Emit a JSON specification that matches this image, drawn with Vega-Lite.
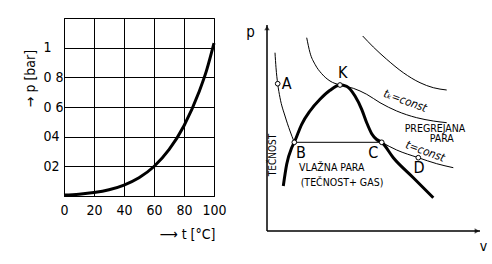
{
  "$schema": "https://vega.github.io/schema/vega-lite/v6.json",
  "background": "white",
  "padding": {"left": 22, "top": 17, "right": 5, "bottom": 5},
  "bounds": "flush",
  "spacing": 53,
  "config": {
    "font": "DejaVu Sans Condensed, DejaVu Sans",
    "view": {"stroke": null},
    "axis": {"labelColor": "black", "titleColor": "black", "titleFontWeight": "normal", "labelFont": "DejaVu Sans Condensed, DejaVu Sans", "titleFont": "DejaVu Sans Condensed, DejaVu Sans"}
  },
  "hconcat": [
    {
      "width": 150,
      "height": 178,
      "view": {"stroke": "black", "strokeWidth": 1},
      "data": {"values": [
        {"t": 0, "p": 0.006},
        {"t": 10, "p": 0.012},
        {"t": 20, "p": 0.023},
        {"t": 30, "p": 0.042},
        {"t": 40, "p": 0.074},
        {"t": 50, "p": 0.123},
        {"t": 60, "p": 0.199},
        {"t": 70, "p": 0.312},
        {"t": 80, "p": 0.474},
        {"t": 90, "p": 0.701},
        {"t": 95, "p": 0.845},
        {"t": 100, "p": 1.03}
      ]},
      "mark": {"type": "line", "interpolate": "monotone", "color": "black", "strokeWidth": 3},
      "encoding": {
        "x": {
          "field": "t", "type": "quantitative",
          "scale": {"domain": [0, 100], "nice": false},
          "axis": {
            "values": [0, 20, 40, 60, 80, 100],
            "grid": true, "gridColor": "black", "gridOpacity": 1, "gridWidth": 1,
            "domain": false, "ticks": false,
            "labelFontSize": 14, "labelPadding": 7, "labelFlush": false,
            "title": "⟶ t [°C]", "titleFontSize": 14,
            "titleX": 151, "titleY": 38, "titleAlign": "right", "titleBaseline": "middle"
          }
        },
        "y": {
          "field": "p", "type": "quantitative",
          "scale": {"domain": [0, 1.2], "nice": false},
          "axis": {
            "values": [0, 0.2, 0.4, 0.6, 0.8, 1, 1.2],
            "grid": true, "gridColor": "black", "gridOpacity": 1, "gridWidth": 1,
            "domain": false, "ticks": false,
            "labelFontSize": 14, "labelPadding": 21, "labelAlign": "left",
            "labelExpr": "datum.value == 1 ? '1' : datum.value == 0.8 ? '0 8' : datum.value == 0.6 ? '0 6' : datum.value == 0.4 ? '04' : datum.value == 0.2 ? '02' : ''",
            "title": "→ p [bar]", "titleFontSize": 14, "titleAngle": -90,
            "titleX": -34, "titleY": 60, "titleAlign": "center", "titleBaseline": "middle"
          }
        }
      }
    },
    {
      "width": 213,
      "height": 213,
      "view": {"stroke": null},
      "layer": [
        {
          "data": {"values": [
            {"v": 0, "p": 0, "v2": 0, "p2": 206},
            {"v": 0, "p": 0, "v2": 213, "p2": 0}
          ]},
          "mark": {"type": "rule", "color": "black", "strokeWidth": 1.5},
          "encoding": {
            "x": {"field": "v", "type": "quantitative", "scale": {"domain": [0, 213], "nice": false},
              "axis": {"domain": false, "ticks": false, "labels": false, "grid": false, "title": "v", "titleFontSize": 14, "titleX": 216, "titleY": 15, "titleAlign": "center", "titleBaseline": "middle"}},
            "y": {"field": "p", "type": "quantitative", "scale": {"domain": [0, 213], "nice": false},
              "axis": {"domain": false, "ticks": false, "labels": false, "grid": false, "title": "p", "titleFontSize": 15, "titleAngle": 0, "titleX": -17, "titleY": 13, "titleAlign": "center", "titleBaseline": "middle"}},
            "x2": {"field": "v2"},
            "y2": {"field": "p2"}
          }
        },
        {
          "data": {"values": [{"v": 0, "p": 203}]},
          "mark": {"type": "point", "shape": "triangle-up", "filled": true, "color": "black", "size": 30},
          "encoding": {"x": {"field": "v", "type": "quantitative"}, "y": {"field": "p", "type": "quantitative"}}
        },
        {
          "data": {"values": [{"v": 210, "p": 0}]},
          "mark": {"type": "point", "shape": "triangle-right", "filled": true, "color": "black", "size": 30},
          "encoding": {"x": {"field": "v", "type": "quantitative"}, "y": {"field": "p", "type": "quantitative"}}
        },
        {
          "data": {"values": [
            {"curve": "liq", "v": 8, "p": 178.3},
            {"curve": "liq", "v": 9, "p": 163.3},
            {"curve": "liq", "v": 10.7, "p": 147.3},
            {"curve": "liq", "v": 13, "p": 133.3},
            {"curve": "liq", "v": 18, "p": 115},
            {"curve": "liq", "v": 23, "p": 100},
            {"curve": "liq", "v": 27.3, "p": 88.7},
            {"curve": "flat", "v": 27.3, "p": 88.7},
            {"curve": "flat", "v": 114.7, "p": 88.7},
            {"curve": "gas", "v": 114.7, "p": 88.7},
            {"curve": "gas", "v": 129.7, "p": 81},
            {"curve": "gas", "v": 151.3, "p": 73.3},
            {"curve": "gas", "v": 169.7, "p": 67.3},
            {"curve": "gas", "v": 186.3, "p": 63.3},
            {"curve": "crit", "v": 39.7, "p": 193.3},
            {"curve": "crit", "v": 43, "p": 178.3},
            {"curve": "crit", "v": 48, "p": 166.7},
            {"curve": "crit", "v": 54.7, "p": 157.3},
            {"curve": "crit", "v": 63, "p": 150},
            {"curve": "crit", "v": 73, "p": 146},
            {"curve": "crit", "v": 86.3, "p": 142.7},
            {"curve": "crit", "v": 99.7, "p": 136.7},
            {"curve": "crit", "v": 113, "p": 128.3},
            {"curve": "crit", "v": 129.7, "p": 120},
            {"curve": "crit", "v": 149.7, "p": 113.3},
            {"curve": "crit", "v": 166.3, "p": 110},
            {"curve": "crit", "v": 179.7, "p": 108.3},
            {"curve": "top", "v": 95.7, "p": 195},
            {"curve": "top", "v": 106.3, "p": 184},
            {"curve": "top", "v": 119.7, "p": 171.7},
            {"curve": "top", "v": 136.3, "p": 158.3},
            {"curve": "top", "v": 153, "p": 148.3},
            {"curve": "top", "v": 166.3, "p": 143.3},
            {"curve": "top", "v": 179.7, "p": 141}
          ]},
          "mark": {"type": "line", "interpolate": "monotone", "color": "black", "strokeWidth": 1},
          "encoding": {
            "x": {"field": "v", "type": "quantitative"},
            "y": {"field": "p", "type": "quantitative"},
            "detail": {"field": "curve"}
          }
        },
        {
          "data": {"values": [
            {"v": 16.3, "p": 45},
            {"v": 19.7, "p": 66.7},
            {"v": 24.7, "p": 83.3},
            {"v": 27.3, "p": 88.7},
            {"v": 34.7, "p": 106.7},
            {"v": 43, "p": 120},
            {"v": 53, "p": 131.7},
            {"v": 63, "p": 140.7},
            {"v": 73, "p": 146},
            {"v": 79.7, "p": 144.7},
            {"v": 88, "p": 135},
            {"v": 94.7, "p": 121.7},
            {"v": 99.7, "p": 108.3},
            {"v": 104.7, "p": 97.3},
            {"v": 109.7, "p": 91.5},
            {"v": 114.7, "p": 88.7},
            {"v": 126.3, "p": 73.3},
            {"v": 146.3, "p": 53.3},
            {"v": 166.3, "p": 33.3}
          ]},
          "mark": {"type": "line", "interpolate": "monotone", "color": "black", "strokeWidth": 3},
          "encoding": {
            "x": {"field": "v", "type": "quantitative"},
            "y": {"field": "p", "type": "quantitative"}
          }
        },
        {
          "data": {"values": [
            {"name": "A", "v": 10.7, "p": 147.3},
            {"name": "K", "v": 73, "p": 146},
            {"name": "B", "v": 27.3, "p": 88.7},
            {"name": "C", "v": 114.7, "p": 88.7},
            {"name": "D", "v": 151.3, "p": 73.3}
          ]},
          "mark": {"type": "point", "filled": true, "fill": "white", "stroke": "black", "strokeWidth": 1, "size": 22, "opacity": 1},
          "encoding": {
            "x": {"field": "v", "type": "quantitative"},
            "y": {"field": "p", "type": "quantitative"}
          }
        },
        {
          "data": {"values": [
            {"label": "A", "v": 19.7, "p": 146.7},
            {"label": "K", "v": 75.7, "p": 158.3},
            {"label": "B", "v": 34, "p": 78.3},
            {"label": "C", "v": 106.3, "p": 77.7},
            {"label": "D", "v": 152, "p": 63.3}
          ]},
          "mark": {"type": "text", "fontSize": 16, "color": "black", "align": "center", "baseline": "middle"},
          "encoding": {
            "x": {"field": "v", "type": "quantitative"},
            "y": {"field": "p", "type": "quantitative"},
            "text": {"field": "label"}
          }
        },
        {
          "data": {"values": [
            {"label": "PREGREJANA", "v": 168, "p": 102.5},
            {"label": "PARA", "v": 174.7, "p": 92},
            {"label": "VLAŽNA  PARA", "v": 64.7, "p": 63},
            {"label": "(TEČNOST+ GAS)", "v": 75, "p": 48.3}
          ]},
          "mark": {"type": "text", "fontSize": 10.5, "color": "black", "align": "center", "baseline": "middle"},
          "encoding": {
            "x": {"field": "v", "type": "quantitative"},
            "y": {"field": "p", "type": "quantitative"},
            "text": {"field": "label"}
          }
        },
        {
          "data": {"values": [
            {"label": "TEČNOST", "v": 6.3, "p": 76}
          ]},
          "mark": {"type": "text", "fontSize": 10, "color": "black", "align": "center", "baseline": "middle", "angle": 270},
          "encoding": {
            "x": {"field": "v", "type": "quantitative"},
            "y": {"field": "p", "type": "quantitative"},
            "text": {"field": "label"}
          }
        },
        {
          "data": {"values": [
            {"label": "tₖ=const", "v": 138, "p": 129.5},
            {"label": "t=const", "v": 158, "p": 79}
          ]},
          "mark": {"type": "text", "fontSize": 11.5, "fontStyle": "italic", "color": "black", "align": "center", "baseline": "middle", "angle": 20},
          "encoding": {
            "x": {"field": "v", "type": "quantitative"},
            "y": {"field": "p", "type": "quantitative"},
            "text": {"field": "label"}
          }
        }
      ]
    }
  ]
}
